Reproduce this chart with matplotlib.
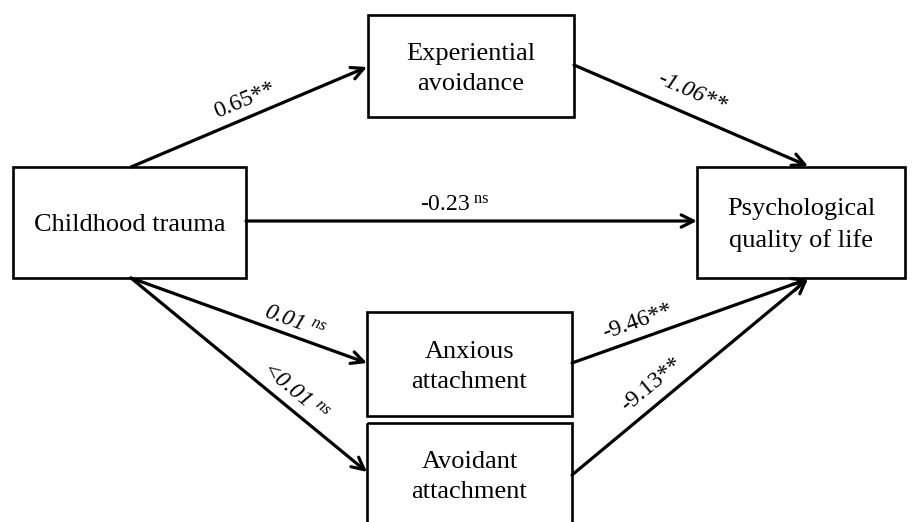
import numpy as np
import matplotlib
matplotlib.use("Agg")
import matplotlib.pyplot as plt
from matplotlib.patches import Rectangle

plt.rcParams['font.family'] = ['Liberation Serif', 'DejaVu Serif']
plt.rcParams['mathtext.fontset'] = 'custom'
plt.rcParams['mathtext.rm'] = 'Liberation Serif'
plt.rcParams['mathtext.it'] = 'Liberation Serif:italic'

# nodes
node_names = ["CT", "EA", "PQ", "AX", "AV"]
node_labels = ["Childhood trauma", "Experiential\navoidance", "Psychological\nquality of life",
               "Anxious\nattachment", "Avoidant\nattachment"]

# paths and coefficients
path_from = ["CT", "EA", "CT", "CT", "CT", "AX", "AV"]
path_to = ["EA", "PQ", "PQ", "AX", "AV", "PQ", "PQ"]
coef_text = ["0.65", "-1.06", "-0.23", "0.01", "<0.01", "-9.46", "-9.13"]
coef_sig = ["**", "**", "ns", "ns", "ns", "**", "**"]

# layout (pixel coords, y down)
boxes = {"CT": (13, 167, 233, 111), "EA": (368, 15, 206, 102), "PQ": (697, 167, 208, 111),
         "AX": (367, 312, 205, 104), "AV": (367, 423, 205, 130)}
text_y = {"CT": 225, "EA": 69, "PQ": 225, "AX": 367, "AV": 477}
starts = [(131, 167), (574, 65), (246, 221), (131, 278), (131, 278), (572, 363), (572, 475)]
ends = [(367, 67), (808, 166), (697, 221), (367, 363), (367, 472), (808, 279), (808, 279)]
label_pos = [(245, 100), (692, 92), (455, 205), (295, 322), (295, 392), (638, 322), (652, 385)]
label_italic = [False, True, False, True, True, False, False]

fig = plt.figure(figsize=(9.17, 5.22), dpi=100)
ax = fig.add_axes([0, 0, 1, 1])
ax.set_xlim(0, 917)
ax.set_ylim(522, 0)
ax.axis('off')

for n, lab in zip(node_names, node_labels):
    x, y, w, h = boxes[n]
    ax.add_patch(Rectangle((x, y), w, h, fill=False, ec='black', lw=1.9, zorder=2))
    ax.text(x + w / 2, text_y[n], lab, ha='center', va='center', fontsize=19,
            linespacing=1.5, zorder=3)

for i in range(len(path_from)):
    (x0, y0), (x1, y1) = starts[i], ends[i]
    ax.annotate("", xy=(x1, y1), xytext=(x0, y0),
                arrowprops=dict(arrowstyle='->', lw=2.3, color='black',
                                mutation_scale=22, shrinkA=0, shrinkB=0))
    ang = -np.degrees(np.arctan2(y1 - y0, x1 - x0))
    if coef_sig[i] == "ns":
        s = coef_text[i] + r"$^{\ \mathrm{ns}}$" if not label_italic[i] else coef_text[i] + r" $^{\mathit{ns}}$"
    else:
        s = coef_text[i] + coef_sig[i]
    lx, ly = label_pos[i]
    ax.text(lx, ly, s, ha='center', va='center', fontsize=17, rotation=ang,
            rotation_mode='anchor', style='italic' if label_italic[i] else 'normal')

fig.savefig("out.png", dpi=100)
